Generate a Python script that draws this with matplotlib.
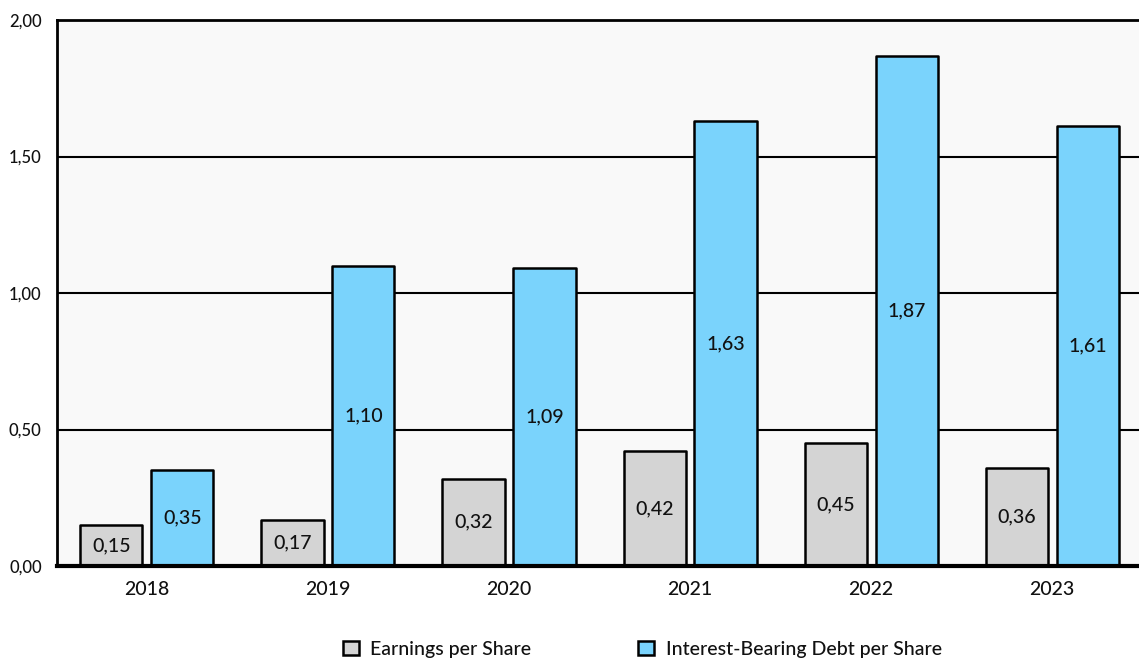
import matplotlib
matplotlib.use('Agg')
import matplotlib.pyplot as plt
import numpy as np

years = ['2018', '2019', '2020', '2021', '2022', '2023']
eps = [0.15, 0.17, 0.32, 0.42, 0.45, 0.36]
debt = [0.35, 1.10, 1.09, 1.63, 1.87, 1.61]
y_ticks = [0.0, 0.5, 1.0, 1.5, 2.0]

gray = '#D4D4D4'
blue = '#7AD3FC'

plt.rcParams['font.family'] = ['Lato', 'DejaVu Sans']
plt.rcParams['font.weight'] = 'medium'
plt.rcParams['text.color'] = '#111111'

fig = plt.figure(figsize=(11.39, 6.61), dpi=100)
ax = fig.add_axes([0.05, 0.1437, 0.95, 0.826])
ax.set_facecolor('#F9F9F9')

x = np.arange(len(years))
w = 0.343
off = 0.196

# grid lines behind the bars
for t in y_ticks[1:-1]:
    ax.axhline(t, color='black', lw=1.5, zorder=1)

b1 = ax.bar(x - off, eps, w, color=gray, edgecolor='black', linewidth=1.8, zorder=2)
b2 = ax.bar(x + off, debt, w, color=blue, edgecolor='black', linewidth=1.8, zorder=2)
for p in list(b1) + list(b2):
    p.set_joinstyle('round')

def fmt(v):
    return f'{v:.2f}'.replace('.', ',')

for xi, v in zip(x - off, eps):
    ax.text(xi, v / 2, fmt(v), ha='center', va='center', fontsize=14, zorder=3)
for xi, v in zip(x + off, debt):
    ax.text(xi, v / 2, fmt(v), ha='center', va='center', fontsize=14, zorder=3)

ax.set_xlim(-0.497, 5.48)
ax.set_ylim(0, 2.0)
ax.set_xticks(x)
ax.set_xticklabels(years, fontsize=14)
ax.set_yticks(y_ticks)
ax.set_yticklabels([fmt(t) for t in y_ticks], fontsize=12)
ax.tick_params(axis='both', length=0, labelcolor='#111111')
ax.tick_params(axis='x', pad=11)
ax.tick_params(axis='y', pad=11)

ax.spines['left'].set_linewidth(2)
ax.spines['top'].set_linewidth(2)
ax.spines['bottom'].set_linewidth(3)
ax.spines['right'].set_visible(False)

leg = fig.legend([b1, b2], ['Earnings per Share', 'Interest-Bearing Debt per Share'],
                 loc='center', bbox_to_anchor=(0.564, 0.018), ncol=2, frameon=False,
                 fontsize=14, handlelength=0.8, handleheight=0.8, columnspacing=5.5,
                 handletextpad=0.6)

fig.savefig('out.png', dpi=100, facecolor='white')
